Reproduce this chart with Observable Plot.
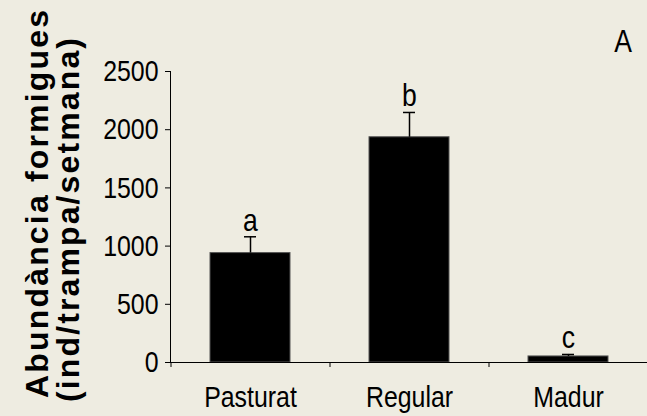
<!DOCTYPE html>
<html>
<head>
<meta charset="utf-8">
<script src="https://cdn.jsdelivr.net/npm/d3@7"></script>
<script src="https://cdn.jsdelivr.net/npm/@observablehq/plot@0.6"></script>
<style>
  html, body { margin: 0; padding: 0; background: #EEECE1; }
  #chart svg { display: block; }
</style>
</head>
<body>
<div id="chart"></div>
<script>
const categories = ["Pasturat", "Regular", "Madur"];
const means = [940, 1935, 52];
const errors = [140, 213, 17];
const letters = ["a", "b", "c"];
const yTicks = [0, 500, 1000, 1500, 2000, 2500];
const titleLines = ["Abundància formigues", "(ind/trampa/setmana)"];
const panelLabel = "A";

const data = categories.map((c, i) => ({
  cat: c, mean: means[i], err: errors[i], top: means[i] + errors[i], letter: letters[i]
}));

const W = 647, H = 416, ML = 170, MR = 0, MT = 71, MB = 54;
const step = (W - ML - MR) / categories.length;
const font = "'Liberation Sans', Arial, sans-serif";
const SQ = 0.83; // horizontal squeeze of the original figure

const chart = Plot.plot({
  width: W, height: H,
  marginLeft: ML, marginRight: MR, marginTop: MT, marginBottom: MB,
  style: { background: "#EEECE1", fontFamily: font, fontSize: "30px", color: "black", overflow: "visible" },
  x: { domain: categories, paddingInner: 0.5, paddingOuter: 0.25, label: null, tickSize: 0, tickPadding: 23 },
  y: { domain: [0, 2500], ticks: yTicks, tickSize: 5, tickPadding: 7, label: null, line: true, tickFormat: d => String(d) },
  marks: [
    Plot.barY(data, { x: "cat", y: "mean", fill: "black", stroke: "#555", strokeWidth: 1 }),
    Plot.ruleX(data, { x: "cat", y1: "mean", y2: "top", stroke: "black", strokeWidth: 1.5 }),
    Plot.tickY(data, { x: "cat", y: "top", insetLeft: 34, insetRight: 34, stroke: "black", strokeWidth: 1.5 }),
    Plot.text(data, { x: "cat", y: "top", text: "letter", lineAnchor: "bottom", dy: -6, fontSize: 32 }),
    Plot.ruleY([0], { stroke: "black", strokeWidth: 1 }),
    Plot.ruleX(categories, { x: d => d, y1: () => 0, y2: () => 0, dx: -step / 2, insetBottom: -5, stroke: "black", strokeWidth: 1 })
  ]
});

const svg = d3.select(chart);

// squeeze all horizontal texts around their anchor point
svg.selectAll("text").each(function () {
  const t = d3.select(this);
  const x = +(t.attr("x") || 0);
  const tr = t.attr("transform") || "";
  t.attr("transform", `${tr} translate(${x},0) scale(${SQ},1) translate(${-x},0)`);
});

const title = svg.append("g")
  .attr("font-family", font)
  .attr("font-weight", "bold")
  .attr("font-size", 32)
  .attr("fill", "black")
  .attr("text-anchor", "middle");
title.append("text")
  .attr("transform", "translate(48,204) rotate(-90)")
  .attr("textLength", 388).attr("lengthAdjust", "spacing")
  .text(titleLines[0]);
title.append("text")
  .attr("transform", "translate(79,220) rotate(-90)")
  .attr("textLength", 364).attr("lengthAdjust", "spacing")
  .text(titleLines[1]);

svg.append("text")
  .attr("transform", `translate(623,52) scale(${SQ},1)`)
  .attr("text-anchor", "middle")
  .attr("font-family", font)
  .attr("font-size", 32)
  .attr("fill", "black")
  .text(panelLabel);

document.getElementById("chart").appendChild(chart);
</script>
</body>
</html>
